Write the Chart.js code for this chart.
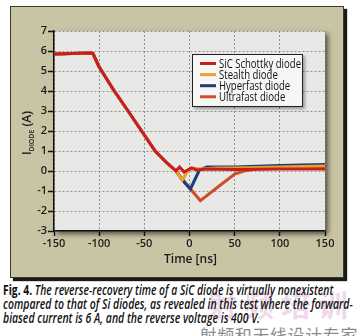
<!DOCTYPE html>
<html>
<head>
<meta charset="utf-8">
<script src="https://cdn.jsdelivr.net/npm/chart.js@4"></script>
<style>
  body { margin: 0; background: #fff; width: 359px; height: 336px; overflow: hidden; position: relative; }
  #panel { position: absolute; left: 10px; top: 6px; width: 332px; height: 270px; background: #c8c4a4; border: 1px solid #3a3a30; box-shadow: 3px 3px 1px #1a1a1a; }
  #chart { position: absolute; left: 0; top: 0; }
  .cap { position: absolute; left: 3px; font-family: "Open Sans", "Liberation Sans", sans-serif; font-weight: 600; font-size: 13.5px; line-height: 14px; font-style: italic; color: #111; white-space: nowrap; transform-origin: 0 0; }
  .cap b { font-style: normal; font-weight: 700; }
  #logo { position: absolute; left: 207px; top: 281px; font-family: "Noto Sans CJK SC", sans-serif; font-weight: bold; font-size: 30px; letter-spacing: 7px; color: rgba(195, 120, 175, 0.28); white-space: nowrap; }
  #mark { position: absolute; right: 1px; top: 322px; font-family: "Noto Sans CJK SC", sans-serif; font-size: 17px; letter-spacing: 0.6px; color: #8c8c8c; white-space: nowrap; }
</style>
</head>
<body>
<div id="panel"></div>
<canvas id="chart" width="359" height="280"></canvas>
<div id="logo">射频培训</div>
<div class="cap" style="top:283px" data-w="330"><b>Fig. 4.</b> The reverse-recovery time of a SiC diode is virtually nonexistent</div>
<div class="cap" style="top:297px" data-w="350">compared to that of Si diodes, as revealed in this test where the forward-</div>
<div class="cap" style="top:311px" data-w="257">biased current is 6 A, and the reverse voltage is 400 V.</div>
<div id="mark">射频和天线设计专家</div>
<script>
const seriesNames = ['SiC Schottky diode', 'Stealth diode', 'Hyperfast diode', 'Ultrafast diode'];
const seriesColors = ['#c81e1e', '#e9a12a', '#1d3c78', '#cc4f28'];

const sicTime = [-150, -130, -110, -107, -100, -84, -68, -53, -38, -26, -15, -11, -6, -2, 2, 8, 20, 50, 100, 150];
const sicCurrent = [5.85, 5.88, 5.9, 5.88, 5.2, 4.05, 3.0, 2.0, 1.0, 0.45, 0.0, 0.2, -0.05, 0.05, 0.15, 0.05, 0.1, 0.08, 0.1, 0.1];

const stealthTime = [-150, -130, -110, -107, -100, -84, -68, -53, -38, -26, -15, -8, -2, 4, 12, 30, 50, 100, 150];
const stealthCurrent = [5.85, 5.88, 5.9, 5.88, 5.2, 4.05, 3.0, 2.0, 1.0, 0.45, 0.0, -0.45, 0.0, 0.15, 0.1, 0.15, 0.15, 0.2, 0.25];

const hyperTime = [-150, -130, -110, -107, -100, -84, -68, -53, -38, -26, -15, -8, 1, 11, 19, 50, 100, 150];
const hyperCurrent = [5.85, 5.88, 5.9, 5.88, 5.2, 4.05, 3.0, 2.0, 1.0, 0.45, 0.0, -0.45, -0.9, 0.05, 0.2, 0.2, 0.28, 0.32];

const ultraTime = [-150, -130, -110, -107, -100, -84, -68, -53, -38, -26, -15, 1, 12, 30, 50, 60, 75, 100, 150];
const ultraCurrent = [5.85, 5.88, 5.9, 5.88, 5.2, 4.05, 3.0, 2.0, 1.0, 0.45, 0.0, -0.9, -1.48, -0.85, -0.15, 0.0, 0.1, 0.15, 0.22];

const timeTicks = [-150, -100, -50, 0, 50, 100, 150];
const currentTicks = [-3, -2, -1, 0, 1, 2, 3, 4, 5, 6, 7];

const allTimes = [sicTime, stealthTime, hyperTime, ultraTime];
const allCurrents = [sicCurrent, stealthCurrent, hyperCurrent, ultraCurrent];

// squeeze caption lines to the condensed widths of the original
document.querySelectorAll('.cap').forEach(el => {
    const target = parseFloat(el.dataset.w);
    el.style.transform = 'scaleX(' + (target / el.offsetWidth) + ')';
});

const tickFont = { family: 'Open Sans', size: 11, weight: '600' };

const plotBackground = {
    id: 'plotBackground',
    beforeDraw(chart) {
        const { ctx, chartArea: a } = chart;
        ctx.save();
        ctx.shadowColor = 'rgba(0,0,0,0.6)';
        ctx.shadowBlur = 5;
        ctx.shadowOffsetX = 3;
        ctx.shadowOffsetY = 3;
        ctx.fillStyle = '#e8e9e6';
        ctx.fillRect(a.left, a.top, a.right - a.left, a.bottom - a.top);
        ctx.restore();
    }
};

const axisTitles = {
    id: 'axisTitles',
    afterDraw(chart) {
        const { ctx, chartArea: a } = chart;
        ctx.save();
        ctx.fillStyle = '#1a1a1a';
        ctx.textBaseline = 'alphabetic';
        ctx.font = '600 12px "Open Sans"';
        ctx.textAlign = 'center';
        ctx.fillText('Time [ns]', (a.left + a.right) / 2 + 1, 263);
        // y title, rotated, with subscript
        const big = '600 12px "Open Sans"';
        const small = '600 7px "Open Sans"';
        ctx.font = big;
        const wI = ctx.measureText('I').width;
        const wA = ctx.measureText(' (A)').width;
        ctx.font = small;
        const wD = ctx.measureText('DIODE').width;
        const total = wI + wD + wA;
        ctx.translate(31, 133);
        ctx.rotate(-Math.PI / 2);
        ctx.textAlign = 'left';
        let x = -total / 2;
        ctx.font = big;
        ctx.fillText('I', x, 0);
        x += wI;
        ctx.font = small;
        ctx.fillText('DIODE', x, 2.5);
        x += wD;
        ctx.font = big;
        ctx.fillText(' (A)', x, 0);
        ctx.restore();
    }
};

const boxLegend = {
    id: 'boxLegend',
    afterDatasetsDraw(chart) {
        const ctx = chart.ctx;
        const x0 = 192, y0 = 54, w = 111, h = 53;
        ctx.save();
        ctx.shadowColor = 'rgba(0,0,0,0.35)';
        ctx.shadowBlur = 3;
        ctx.shadowOffsetX = 2;
        ctx.shadowOffsetY = 2;
        ctx.fillStyle = '#f6f6f4';
        ctx.fillRect(x0, y0, w, h);
        ctx.restore();
        ctx.save();
        ctx.strokeStyle = '#222';
        ctx.lineWidth = 1;
        ctx.strokeRect(x0 + 0.5, y0 + 0.5, w - 1, h - 1);
        ctx.font = '500 12.5px "Open Sans"';
        const squeeze = 82 / ctx.measureText(seriesNames[0]).width;
        chart.data.datasets.forEach((ds, i) => {
            const y = 63.5 + i * 11.1;
            ctx.strokeStyle = ds.borderColor;
            ctx.lineWidth = 3;
            ctx.beginPath();
            ctx.moveTo(200, y);
            ctx.lineTo(216, y);
            ctx.stroke();
            ctx.save();
            ctx.translate(219, y + 0.5);
            ctx.scale(squeeze, 1);
            ctx.fillStyle = '#111';
            ctx.textBaseline = 'middle';
            ctx.fillText(ds.label, 0, 0);
            ctx.restore();
        });
        ctx.restore();
    }
};

const ctx = document.getElementById('chart').getContext('2d');
new Chart(ctx, {
    type: 'line',
    data: {
        datasets: seriesNames.map((name, i) => ({
            label: name,
            data: allTimes[i].map((t, j) => ({ x: t, y: allCurrents[i][j] })),
            borderColor: seriesColors[i],
            borderWidth: 3,
            pointRadius: 0,
            tension: 0,
            fill: false
        }))
    },
    options: {
        responsive: false,
        animation: false,
        devicePixelRatio: 1,
        layout: { padding: { left: 0, top: 31, right: 34, bottom: 0 } },
        plugins: {
            legend: { display: false },
            tooltip: { enabled: false }
        },
        scales: {
            x: {
                type: 'linear',
                min: -150,
                max: 150,
                afterBuildTicks: (s) => { s.ticks = timeTicks.map(v => ({ value: v })); },
                afterFit: (s) => { s.height = 49; },
                ticks: { color: '#1a1a1a', font: tickFont, padding: 1, maxRotation: 0 },
                grid: { color: '#7a7a7a', lineWidth: 0.8, tickLength: 5, tickColor: '#111', tickWidth: 1.5, tickBorderDash: [] },
                border: { display: true, color: '#111', width: 1.5, dash: [2, 2] }
            },
            y: {
                type: 'linear',
                min: -3,
                max: 7,
                afterBuildTicks: (s) => { s.ticks = currentTicks.map(v => ({ value: v })); },
                afterFit: (s) => { s.width = 54; },
                ticks: { color: '#1a1a1a', font: tickFont, padding: 1 },
                grid: { color: '#7a7a7a', lineWidth: 0.8, tickLength: 6, tickColor: '#111', tickWidth: 1.5, tickBorderDash: [] },
                border: { display: true, color: '#111', width: 1.5, dash: [2, 2] }
            }
        }
    },
    plugins: [plotBackground, axisTitles, boxLegend]
});
</script>
</body>
</html>
